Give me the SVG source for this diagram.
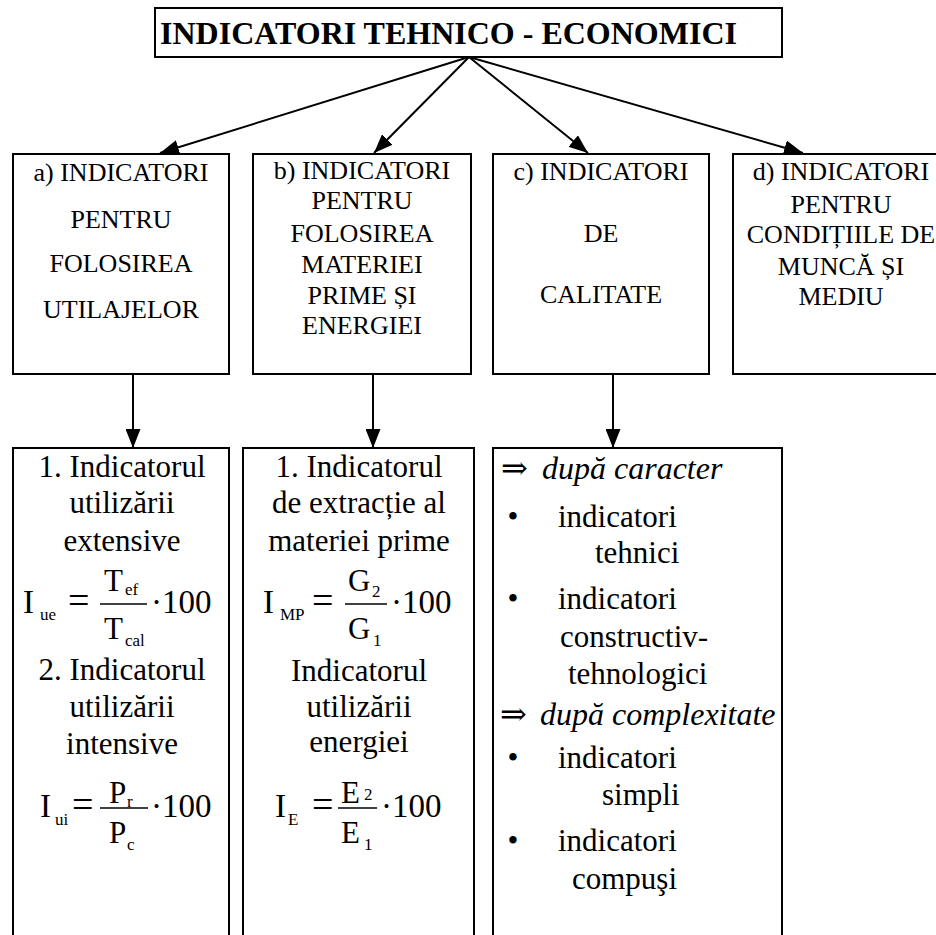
<svg xmlns="http://www.w3.org/2000/svg" width="936" height="935" viewBox="0 0 936 935" font-family="Liberation Serif, serif">
<style>
.box{fill:#fff;stroke:#000;stroke-width:2}
.con{stroke:#000;stroke-width:2;fill:none}
text{fill:#000}
.t26{font-size:26px;text-anchor:middle}
.t31{font-size:31px;text-anchor:middle}
.ts{font-size:31px}
.it{font-size:32px;font-style:italic}
.fm{font-size:33px}
.fr{font-size:31px}
.sb{font-size:17px}
.eq{font-size:38px}
.arr{font-size:32px}
.fl{stroke:#000;stroke-width:1.5}
</style>
<defs>
<marker id="ah" markerUnits="userSpaceOnUse" markerWidth="19" markerHeight="15" refX="19" refY="7.5" orient="auto">
<path d="M0,0 L19,7.5 L0,15 z" fill="#000"/>
</marker>
</defs>

<g id="connectors">
<line class="con" x1="469" y1="57" x2="160" y2="153" marker-end="url(#ah)"/>
<line class="con" x1="469" y1="57" x2="374" y2="153" marker-end="url(#ah)"/>
<line class="con" x1="469" y1="57" x2="588" y2="153" marker-end="url(#ah)"/>
<line class="con" x1="469" y1="57" x2="803" y2="153" marker-end="url(#ah)"/>
<line class="con" x1="133" y1="375" x2="133" y2="448" marker-end="url(#ah)"/>
<line class="con" x1="373" y1="375" x2="373" y2="448" marker-end="url(#ah)"/>
<line class="con" x1="613" y1="375" x2="613" y2="448" marker-end="url(#ah)"/>
</g>

<g id="title">
<rect class="box" x="155" y="8" width="627" height="49"/>
<text x="160" y="44" font-size="32" font-weight="bold">INDICATORI TEHNICO - ECONOMICI</text>
</g>

<g id="node-a">
<rect class="box" x="13" y="154" width="216" height="220"/>
<text class="t26" x="121" y="181">a) INDICATORI</text>
<text class="t26" x="121" y="228">PENTRU</text>
<text class="t26" x="121" y="272">FOLOSIREA</text>
<text class="t26" x="121" y="318">UTILAJELOR</text>
</g>

<g id="node-b">
<rect class="box" x="253" y="154" width="218" height="220"/>
<text class="t26" x="362" y="179">b) INDICATORI</text>
<text class="t26" x="362" y="209">PENTRU</text>
<text class="t26" x="362" y="242">FOLOSIREA</text>
<text class="t26" x="362" y="273">MATERIEI</text>
<text class="t26" x="362" y="304">PRIME ȘI</text>
<text class="t26" x="362" y="334">ENERGIEI</text>
</g>

<g id="node-c">
<rect class="box" x="493" y="154" width="216" height="220"/>
<text class="t26" x="601" y="180">c) INDICATORI</text>
<text class="t26" x="601" y="242">DE</text>
<text class="t26" x="601" y="303">CALITATE</text>
</g>

<g id="node-d">
<rect class="box" x="733" y="154" width="217" height="220"/>
<text class="t26" x="841" y="180">d) INDICATORI</text>
<text class="t26" x="841" y="213">PENTRU</text>
<text class="t26" x="841" y="243">CONDIȚIILE DE</text>
<text class="t26" x="841" y="275">MUNCĂ ȘI</text>
<text class="t26" x="841" y="305">MEDIU</text>
</g>

<g id="node-a-detail">
<path class="box" d="M13,940 V448 H229 V940"/>
<text class="t31" x="122" y="477">1. Indicatorul</text>
<text class="t31" x="122" y="513">utilizării</text>
<text class="t31" x="122" y="551">extensive</text>
<text class="fm" x="23" y="613">I</text>
<text class="sb" x="40" y="620">ue</text>
<text class="eq" x="68" y="613">=</text>
<line class="fl" x1="100" y1="604" x2="147" y2="604"/>
<text class="fr" x="104" y="591">T</text>
<text class="sb" x="125" y="595">ef</text>
<text class="fr" x="104" y="639">T</text>
<text class="sb" x="125" y="646">cal</text>
<text class="fm" x="151" y="613" font-size="34">·100</text>
<text class="t31" x="122" y="680">2. Indicatorul</text>
<text class="t31" x="122" y="717">utilizării</text>
<text class="t31" x="122" y="754">intensive</text>
<text class="fm" x="40" y="817">I</text>
<text class="sb" x="55" y="825">ui</text>
<text class="eq" x="72" y="817">=</text>
<line class="fl" x1="100" y1="808" x2="148" y2="808"/>
<text class="fr" x="109" y="803">P</text>
<text class="sb" x="127" y="807">r</text>
<text class="fr" x="109" y="843">P</text>
<text class="sb" x="127" y="850">c</text>
<text class="fm" x="151" y="817" font-size="31">·100</text>
</g>

<g id="node-b-detail">
<path class="box" d="M243,940 V448 H474 V940"/>
<text class="t31" x="359" y="477">1. Indicatorul</text>
<text class="t31" x="359" y="513">de extracție al</text>
<text class="t31" x="359" y="551">materiei prime</text>
<text class="fm" x="263" y="613">I</text>
<text class="sb" x="280" y="620">MP</text>
<text class="eq" x="312" y="613">=</text>
<line class="fl" x1="345" y1="604" x2="387" y2="604"/>
<text class="fr" x="348" y="591">G</text>
<text class="sb" x="372" y="597">2</text>
<text class="fr" x="348" y="639">G</text>
<text class="sb" x="373" y="646">1</text>
<text class="fm" x="391" y="613" font-size="34">·100</text>
<text class="t31" x="359" y="681">Indicatorul</text>
<text class="t31" x="359" y="717">utilizării</text>
<text class="t31" x="359" y="752">energiei</text>
<text class="fm" x="275" y="817">I</text>
<text class="sb" x="288" y="825">E</text>
<text class="eq" x="312" y="817">=</text>
<line class="fl" x1="338" y1="808" x2="377" y2="808"/>
<text class="fr" x="341" y="803" font-size="34">E</text>
<text class="sb" x="364" y="800">2</text>
<text class="fr" x="341" y="843" font-size="34">E</text>
<text class="sb" x="364" y="850">1</text>
<text class="fm" x="381" y="817" font-size="34">·100</text>
</g>

<g id="node-c-detail">
<path class="box" d="M493,940 V448 H782 V940"/>
<text class="arr" x="501" y="479" font-family="DejaVu Serif, serif">⇒</text>
<text class="it" x="542" y="479">după caracter</text>
<text class="ts" x="513" y="527" text-anchor="middle">•</text>
<text class="ts" x="558" y="527">indicatori</text>
<text class="ts" x="595" y="563">tehnici</text>
<text class="ts" x="513" y="609" text-anchor="middle">•</text>
<text class="ts" x="558" y="609">indicatori</text>
<text class="ts" x="560" y="647">constructiv-</text>
<text class="ts" x="568" y="684">tehnologici</text>
<text class="arr" x="500" y="725" font-family="DejaVu Serif, serif">⇒</text>
<text class="it" x="540" y="725">după complexitate</text>
<text class="ts" x="513" y="768" text-anchor="middle">•</text>
<text class="ts" x="558" y="768">indicatori</text>
<text class="ts" x="602" y="805">simpli</text>
<text class="ts" x="513" y="851" text-anchor="middle">•</text>
<text class="ts" x="558" y="851">indicatori</text>
<text class="ts" x="572" y="889">compuşi</text>
</g>
</svg>
